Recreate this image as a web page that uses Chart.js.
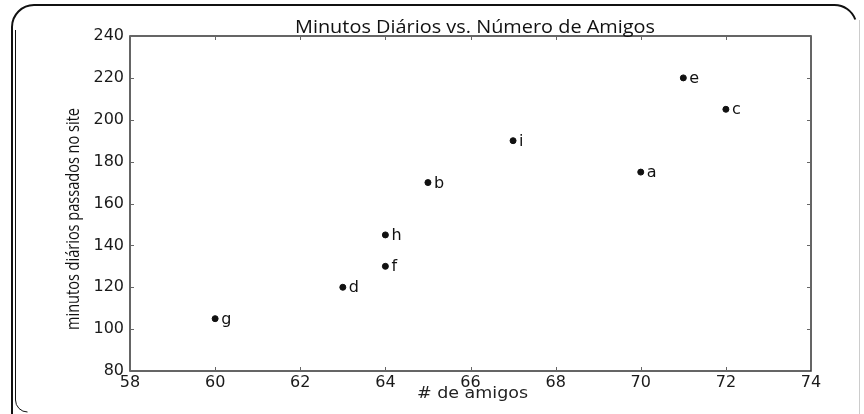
<!DOCTYPE html>
<html>
<head>
<meta charset="utf-8">
<script src="https://cdn.jsdelivr.net/npm/chart.js@4.4.0/dist/chart.umd.min.js"></script>
<style>
html,body{margin:0;padding:0;background:#fff;}
#wrap{width:864px;height:414px;position:relative;}
</style>
</head>
<body>
<div id="wrap"><canvas id="c" width="864" height="414"></canvas></div>
<script>
const pointLabels = ['a','b','c','d','e','f','g','h','i'];
const friends = [70, 65, 72, 63, 71, 64, 60, 64, 67];
const minutes = [175, 170, 205, 120, 220, 130, 105, 145, 190];
const titleText = 'Minutos Diários vs. Número de Amigos';
const xTitle = '# de amigos';
const yTitle = 'minutos diários passados no site';

const points = friends.map((f, i) => ({x: f, y: minutes[i]}));

function fitText(ctx, text, x, y, targetW) {
  const w = ctx.measureText(text).width;
  ctx.save();
  ctx.translate(x, y);
  ctx.scale(targetW / w, 1);
  ctx.fillText(text, 0, 0);
  ctx.restore();
}

const decor = {
  id: 'decor',
  beforeDraw(chart) {
    const ctx = chart.ctx;
    ctx.save();
    ctx.fillStyle = '#fff';
    ctx.fillRect(0, 0, chart.width, chart.height);
    ctx.strokeStyle = '#111';
    ctx.lineWidth = 2;
    const r = 22;
    ctx.beginPath();
    ctx.moveTo(12, 420);
    ctx.lineTo(12, 5 + r);
    ctx.arcTo(12, 5, 12 + r, 5, r);
    ctx.lineTo(850 - r, 5);
    ctx.arcTo(850, 5, 858, 5 + r, r);
    ctx.stroke();
    ctx.lineWidth = 1;
    ctx.beginPath();
    ctx.moveTo(15.5, 30);
    ctx.lineTo(15.5, 400);
    ctx.arcTo(15.5, 412, 28, 412, 12);
    ctx.stroke();
    ctx.strokeStyle = '#ccc';
    ctx.beginPath();
    ctx.moveTo(859.5, 20);
    ctx.lineTo(859.5, 414);
    ctx.stroke();
    ctx.restore();
  },
  afterDraw(chart) {
    const ctx = chart.ctx;
    const a = chart.chartArea;
    const xs = chart.scales.x, ys = chart.scales.y;
    ctx.save();
    ctx.strokeStyle = '#333';
    ctx.lineWidth = 1.5;
    ctx.strokeRect(a.left, a.top, a.right - a.left, a.bottom - a.top);
    ctx.lineWidth = 1;
    ctx.strokeStyle = '#666';
    const tl = 4;
    xs.ticks.forEach(t => {
      const px = Math.round(xs.getPixelForValue(t.value)) + 0.5;
      ctx.beginPath();
      ctx.moveTo(px, a.bottom); ctx.lineTo(px, a.bottom - tl);
      ctx.moveTo(px, a.top); ctx.lineTo(px, a.top + tl);
      ctx.stroke();
    });
    ys.ticks.forEach(t => {
      const py = Math.round(ys.getPixelForValue(t.value)) + 0.5;
      ctx.beginPath();
      ctx.moveTo(a.left, py); ctx.lineTo(a.left + tl, py);
      ctx.moveTo(a.right, py); ctx.lineTo(a.right - tl, py);
      ctx.stroke();
    });
    ctx.fillStyle = '#111';
    ctx.font = '16px "DejaVu Sans"';
    ctx.textAlign = 'left';
    ctx.textBaseline = 'middle';
    const meta = chart.getDatasetMeta(0);
    meta.data.forEach((el, i) => {
      ctx.fillText(pointLabels[i], el.x + 6, el.y + 1);
    });
    ctx.textAlign = 'left';
    ctx.textBaseline = 'alphabetic';
    ctx.font = '19px "Open Sans"';
    fitText(ctx, titleText, 295, 33, 360);
    ctx.font = '16px "DejaVu Sans"';
    ctx.fillStyle = '#222';
    fitText(ctx, xTitle, 417, 398, 111);
    ctx.translate(79, 330);
    ctx.rotate(-Math.PI / 2);
    ctx.font = '18px "Open Sans"';
    ctx.fillStyle = '#111';
    fitText(ctx, yTitle, 0, 0, 222);
    ctx.restore();
  }
};

new Chart(document.getElementById('c'), {
  type: 'scatter',
  data: {
    datasets: [{
      data: points,
      backgroundColor: '#111',
      borderColor: '#111',
      pointRadius: 3,
      pointHoverRadius: 3
    }]
  },
  options: {
    responsive: false,
    animation: false,
    events: [],
    layout: {padding: {top: 36, right: 53, left: 0, bottom: 0}},
    plugins: {legend: {display: false}, tooltip: {enabled: false}, title: {display: false}},
    scales: {
      x: {
        type: 'linear', min: 58, max: 74,
        ticks: {stepSize: 2, padding: 2, color: '#1a1a1a', font: {family: 'DejaVu Sans', size: 16}},
        grid: {display: false, drawTicks: false},
        border: {display: false},
        afterFit(s) { s.height = 43; }
      },
      y: {
        type: 'linear', min: 80, max: 240,
        ticks: {stepSize: 20, padding: 6, color: '#1a1a1a', font: {family: 'DejaVu Sans', size: 16}},
        grid: {display: false, drawTicks: false},
        border: {display: false},
        afterFit(s) { s.width = 130; }
      }
    }
  },
  plugins: [decor]
});
</script>
</body>
</html>
